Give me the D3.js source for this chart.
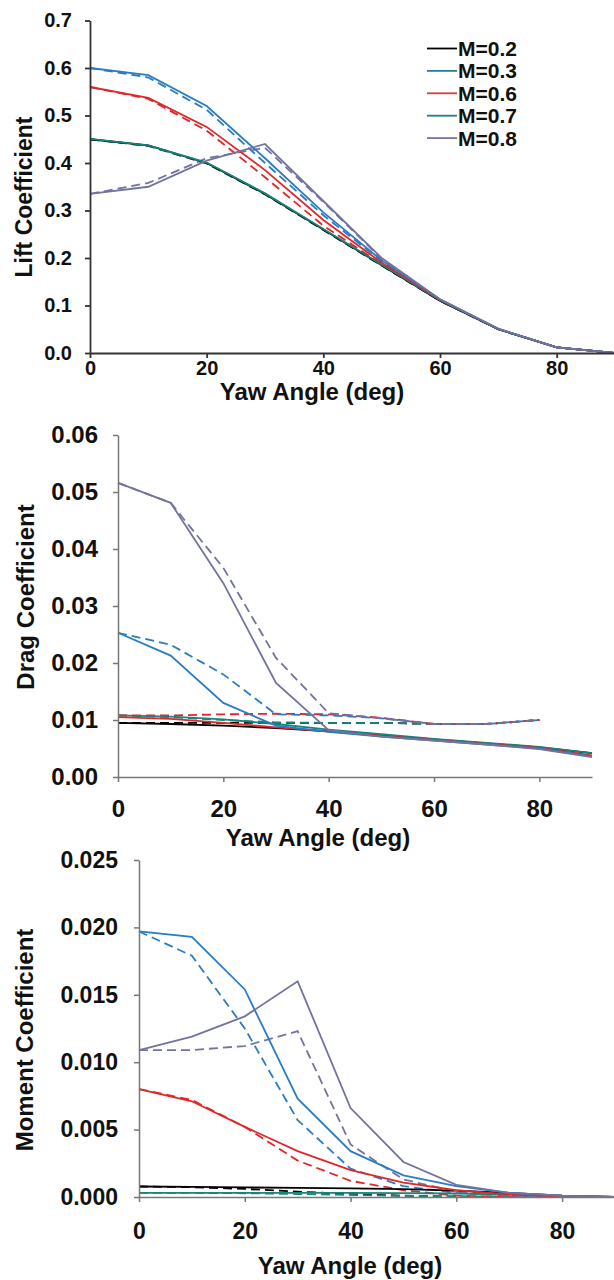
<!DOCTYPE html>
<html>
<head>
<meta charset="utf-8">
<script src="https://cdn.jsdelivr.net/npm/d3@7"></script>
<style>
  body { margin: 0; background: #fff; }
  svg { display: block; font-family: "Liberation Sans", Arial, sans-serif; }
  .tick text { font-weight: bold; fill: #111; }
</style>
</head>
<body>
<svg width="614" height="1280"></svg>
<script>
const svg = d3.select('svg');

// yaw angles (deg)
const angles = [0, 10, 20, 30, 40, 50, 60, 70, 80, 90];
const machs = ['M=0.2', 'M=0.3', 'M=0.6', 'M=0.7', 'M=0.8'];
const machColors = ['#000000', '#18857b', '#e2262a', '#2a7cc3', '#72739e'];
const legendColors = ['#000000', '#2a7f94', '#d63c3c', '#1f7f86', '#72739e'];

// lift coefficient, one row per Mach number
const liftSolid = [
  [0.450, 0.437, 0.400, 0.335, 0.260, 0.185, 0.110, 0.050, 0.012, 0.000],
  [0.451, 0.437, 0.401, 0.336, 0.261, 0.186, 0.111, 0.050, 0.012, 0.000],
  [0.560, 0.537, 0.476, 0.385, 0.280, 0.190, 0.112, 0.051, 0.012, 0.000],
  [0.600, 0.585, 0.520, 0.410, 0.296, 0.195, 0.113, 0.051, 0.012, 0.000],
  [0.335, 0.350, 0.405, 0.440, 0.320, 0.200, 0.113, 0.051, 0.012, 0.000]
];
const liftDashed = [
  [0.450, 0.436, 0.399, 0.334, 0.259, 0.184, 0.110, 0.050, 0.012, 0.000],
  [0.450, 0.436, 0.400, 0.335, 0.260, 0.185, 0.110, 0.050, 0.012, 0.000],
  [0.560, 0.535, 0.468, 0.370, 0.268, 0.187, 0.110, 0.050, 0.012, 0.000],
  [0.600, 0.580, 0.512, 0.400, 0.290, 0.193, 0.112, 0.050, 0.012, 0.000],
  [0.335, 0.358, 0.410, 0.432, 0.318, 0.198, 0.112, 0.050, 0.012, 0.000]
];

// drag coefficient (dashed curves stop at 80 deg)
const dragSolid = [
  [0.0095, 0.0093, 0.0090, 0.0086, 0.0080, 0.0073, 0.0066, 0.0059, 0.0052, 0.0042],
  [0.0108, 0.0106, 0.0101, 0.0093, 0.0083, 0.0075, 0.0067, 0.0060, 0.0053, 0.0042],
  [0.0105, 0.0102, 0.0095, 0.0087, 0.0080, 0.0072, 0.0065, 0.0058, 0.0051, 0.0038],
  [0.0253, 0.0213, 0.0130, 0.0090, 0.0079, 0.0071, 0.0064, 0.0057, 0.0050, 0.0036],
  [0.0516, 0.0481, 0.0340, 0.0165, 0.0082, 0.0071, 0.0064, 0.0057, 0.0049, 0.0035]
];
const dragDashed = [
  [0.0095, 0.0095, 0.0095, 0.0095, 0.0095, 0.0095, 0.0093, 0.0093, 0.0100],
  [0.0108, 0.0105, 0.0100, 0.0096, 0.0095, 0.0095, 0.0093, 0.0093, 0.0100],
  [0.0108, 0.0108, 0.0110, 0.0111, 0.0110, 0.0104, 0.0093, 0.0093, 0.0100],
  [0.0253, 0.0232, 0.0180, 0.0110, 0.0108, 0.0103, 0.0093, 0.0093, 0.0100],
  [0.0516, 0.0481, 0.0367, 0.0209, 0.0112, 0.0103, 0.0093, 0.0093, 0.0100]
];

// moment coefficient
const momentSolid = [
  [0.00078, 0.00075, 0.00071, 0.00068, 0.00064, 0.00058, 0.00048, 0.00030, 0.00010, 0.00000],
  [0.00030, 0.00030, 0.00030, 0.00030, 0.00030, 0.00029, 0.00026, 0.00018, 0.00008, 0.00000],
  [0.00800, 0.00710, 0.00520, 0.00340, 0.00200, 0.00106, 0.00050, 0.00020, 0.00005, 0.00000],
  [0.01970, 0.01930, 0.01540, 0.00730, 0.00340, 0.00160, 0.00080, 0.00030, 0.00010, 0.00000],
  [0.01090, 0.01190, 0.01340, 0.01600, 0.00660, 0.00260, 0.00090, 0.00030, 0.00010, 0.00000]
];
const momentDashed = [
  [0.00078, 0.00073, 0.00060, 0.00040, 0.00022, 0.00010, 0.00003, 0.00000, 0.00000, 0.00000],
  [0.00030, 0.00030, 0.00028, 0.00022, 0.00015, 0.00009, 0.00004, 0.00001, 0.00000, 0.00000],
  [0.00800, 0.00720, 0.00520, 0.00270, 0.00120, 0.00050, 0.00010, 0.00000, 0.00000, 0.00000],
  [0.01970, 0.01790, 0.01250, 0.00570, 0.00210, 0.00080, 0.00030, 0.00010, 0.00000, 0.00000],
  [0.01090, 0.01090, 0.01120, 0.01230, 0.00390, 0.00130, 0.00040, 0.00010, 0.00000, 0.00000]
];

const xTicks = [0, 20, 40, 60, 80];

function drawChart(o) {
  const x = d3.scaleLinear().domain([0, 90]).range([o.left, o.right]);
  const y = d3.scaleLinear().domain([0, o.yMax]).range([o.bottom, o.top]);
  const g = svg.append('g');

  const line = d3.line()
    .x((d, i) => x(angles[i]))
    .y(d => y(d));

  // dashed first, solid on top
  o.dashed.forEach((row, m) => {
    g.append('path')
      .attr('d', line(row))
      .attr('fill', 'none')
      .attr('stroke', machColors[m])
      .attr('stroke-width', 1.8)
      .attr('stroke-dasharray', '9,5');
  });
  o.solid.forEach((row, m) => {
    g.append('path')
      .attr('d', line(row))
      .attr('fill', 'none')
      .attr('stroke', machColors[m])
      .attr('stroke-width', 1.8);
  });

  const yAxis = d3.axisLeft(y)
    .tickValues(d3.range(0, o.yMax + o.yStep / 2, o.yStep))
    .tickFormat(d3.format(o.fmt))
    .tickSize(5)
    .tickSizeOuter(0)
    .tickPadding(o.yPad);
  const xAxis = d3.axisBottom(x)
    .tickValues(xTicks)
    .tickSize(5)
    .tickSizeOuter(0)
    .tickPadding(o.xPad);

  const ya = g.append('g').attr('transform', `translate(${o.left},0)`).call(yAxis);
  const xa = g.append('g').attr('transform', `translate(0,${o.bottom})`).call(xAxis);
  [ya, xa].forEach(a => {
    a.selectAll('path, line').attr('stroke', o.axisColor).attr('stroke-width', o.axisWidth);
    a.selectAll('text').style('font-size', o.tickFont + 'px');
  });

  svg.append('text')
    .attr('x', o.xTitle[0]).attr('y', o.xTitle[1])
    .attr('text-anchor', 'middle')
    .style('font-size', o.xTitleFont + 'px').style('font-weight', 'bold')
    .attr('fill', '#111')
    .text('Yaw Angle (deg)');

  svg.append('text')
    .attr('transform', `translate(${o.yTitle[0]},${o.yTitle[1]}) rotate(-90)`)
    .attr('text-anchor', 'middle')
    .attr('dy', '0.35em')
    .style('font-size', o.yTitleFont + 'px').style('font-weight', 'bold')
    .attr('fill', '#111')
    .text(o.label);
}

drawChart({
  solid: liftSolid, dashed: liftDashed, label: 'Lift Coefficient',
  left: 90, right: 615, top: 20.5, bottom: 353,
  yMax: 0.7, yStep: 0.1, fmt: '.1f', yPad: 13, xPad: 3,
  axisColor: '#333', axisWidth: 1.8, tickFont: 20,
  xTitle: [312, 400], xTitleFont: 24, yTitle: [24, 197], yTitleFont: 23
});

drawChart({
  solid: dragSolid, dashed: dragDashed, label: 'Drag Coefficient',
  left: 118, right: 592, top: 435, bottom: 777,
  yMax: 0.06, yStep: 0.01, fmt: '.2f', yPad: 15, xPad: 18,
  axisColor: '#777', axisWidth: 1.5, tickFont: 24,
  xTitle: [318, 846], xTitleFont: 24, yTitle: [26, 597], yTitleFont: 24
});

drawChart({
  solid: momentSolid, dashed: momentDashed, label: 'Moment Coefficient',
  left: 139, right: 615, top: 860, bottom: 1197,
  yMax: 0.025, yStep: 0.005, fmt: '.3f', yPad: 16, xPad: 21,
  axisColor: '#777', axisWidth: 1.5, tickFont: 23,
  xTitle: [350, 1274], xTitleFont: 24, yTitle: [25, 1040], yTitleFont: 24
});

// legend (lift chart only)
const legend = svg.append('g');
legend.selectAll('line')
  .data(machs)
  .enter()
  .append('line')
  .attr('x1', 427).attr('x2', 457)
  .attr('y1', (d, i) => 48.5 + i * 22.4)
  .attr('y2', (d, i) => 48.5 + i * 22.4)
  .attr('stroke', (d, i) => legendColors[i])
  .attr('stroke-width', 1.8);
legend.selectAll('text')
  .data(machs)
  .enter()
  .append('text')
  .attr('x', 458)
  .attr('y', (d, i) => 48.5 + i * 22.4)
  .attr('dy', '0.36em')
  .style('font-size', '21px').style('font-weight', 'bold')
  .attr('fill', '#111')
  .text(d => d);
</script>
</body>
</html>
